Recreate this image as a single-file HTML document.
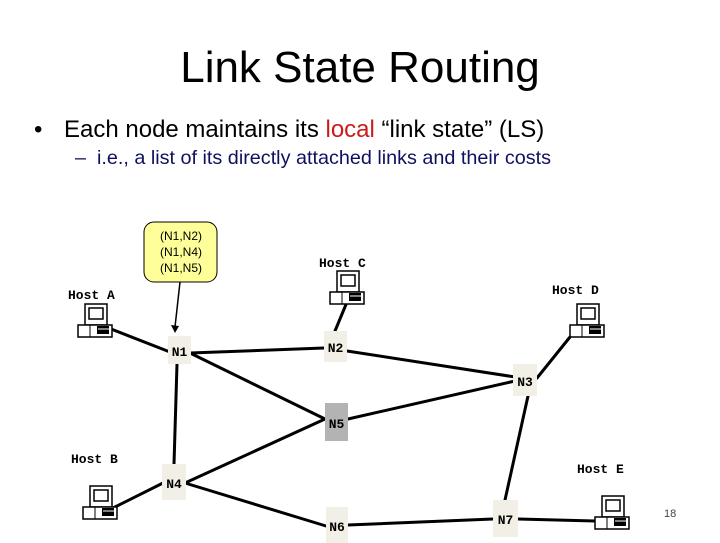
<!DOCTYPE html>
<html><head><meta charset="utf-8"><style>
body{margin:0;width:720px;height:540px;overflow:hidden;background:#fff;font-family:"Liberation Sans",sans-serif;position:relative}
.t{position:absolute;white-space:nowrap}
.n{position:absolute;background:#f1efe6;font:bold 13px "Liberation Mono",monospace;color:#000;display:flex;align-items:center;justify-content:center;padding-top:4px;box-sizing:border-box}
.h{position:absolute;font:bold 13px "Liberation Mono",monospace;white-space:nowrap}
</style></head><body>
<div class="t" style="left:0;width:720px;text-align:center;top:43px;font-size:44px">Link State Routing</div>
<div class="t" style="left:34px;top:116px;font-size:24px">•</div>
<div class="t" style="left:64px;top:116px;font-size:24px">Each node maintains its <span style="color:#cc1b1b">local</span> “link state” (LS)</div>
<div class="t" style="left:75px;top:147px;font-size:19.8px;color:#101060">–&nbsp;&nbsp;i.e., a list of its directly attached links and their costs</div>
<div class="t" style="left:664px;top:508px;font-size:11px;color:#444">18</div>

<svg style="position:absolute;left:0;top:0" width="720" height="540">
<defs>
<g id="pc">
<rect x="7" y="0" width="22" height="21" fill="#fff" stroke="#000" stroke-width="1.5"/>
<rect x="11" y="4" width="14" height="11" fill="#fff" stroke="#000" stroke-width="1.5"/>
<rect x="0" y="21" width="34" height="12" fill="#fff" stroke="#000" stroke-width="1.5"/>
<line x1="12" y1="21" x2="12" y2="33" stroke="#000"/>
<rect x="19" y="22" width="12" height="8" fill="#000"/>
<line x1="20" y1="25" x2="31" y2="25" stroke="#fff"/>
</g>
</defs>
<g stroke="#000" stroke-width="3" stroke-linecap="round">
<line x1="106" y1="327" x2="170" y2="352"/>
<line x1="190" y1="353" x2="324" y2="348"/>
<line x1="335" y1="331" x2="347" y2="302"/>
<line x1="347" y1="351" x2="515" y2="377"/>
<line x1="190" y1="353" x2="325" y2="419"/>
<line x1="177" y1="364" x2="174" y2="464"/>
<line x1="348" y1="419" x2="515" y2="381"/>
<line x1="185" y1="483" x2="325" y2="419"/>
<line x1="113" y1="508" x2="163" y2="483"/>
<line x1="185" y1="483" x2="326" y2="526"/>
<line x1="348" y1="525" x2="493" y2="519"/>
<line x1="518" y1="519" x2="595" y2="521"/>
<line x1="528" y1="396" x2="505" y2="500"/>
<line x1="537" y1="378" x2="570" y2="337"/>
</g>
<rect x="144" y="222" width="73" height="60" rx="10" fill="#ffff99" stroke="#000" stroke-width="1"/>
<line x1="180" y1="282" x2="175" y2="327" stroke="#000" stroke-width="1.5"/>
<polygon points="175,333 171,325 179,326" fill="#000"/>
<text x="181" y="240" font-family="Liberation Sans" font-size="12" text-anchor="middle">(N1,N2)</text>
<text x="181" y="256" font-family="Liberation Sans" font-size="12" text-anchor="middle">(N1,N4)</text>
<text x="181" y="272" font-family="Liberation Sans" font-size="12" text-anchor="middle">(N1,N5)</text>
<use href="#pc" x="78" y="304"/>
<use href="#pc" x="330" y="271"/>
<use href="#pc" x="570" y="304"/>
<use href="#pc" x="83" y="486"/>
<use href="#pc" x="595" y="496"/>
</svg>
<div class="h" style="left:68px;top:288px">Host A</div>
<div class="h" style="left:319px;top:256px">Host C</div>
<div class="h" style="left:552px;top:283px">Host D</div>
<div class="h" style="left:71px;top:452px">Host B</div>
<div class="h" style="left:577px;top:462px">Host E</div>
<div class="n" style="left:168px;top:336px;width:23px;height:28px">N1</div>
<div class="n" style="left:324px;top:331px;width:23px;height:31px">N2</div>
<div class="n" style="left:513px;top:364px;width:24px;height:32px">N3</div>
<div class="n" style="left:325px;top:403px;width:23px;height:38px;background:#b3b3b3">N5</div>
<div class="n" style="left:162px;top:464px;width:24px;height:36px">N4</div>
<div class="n" style="left:326px;top:507px;width:22px;height:36px">N6</div>
<div class="n" style="left:493px;top:500px;width:25px;height:37px">N7</div>
</body></html>
